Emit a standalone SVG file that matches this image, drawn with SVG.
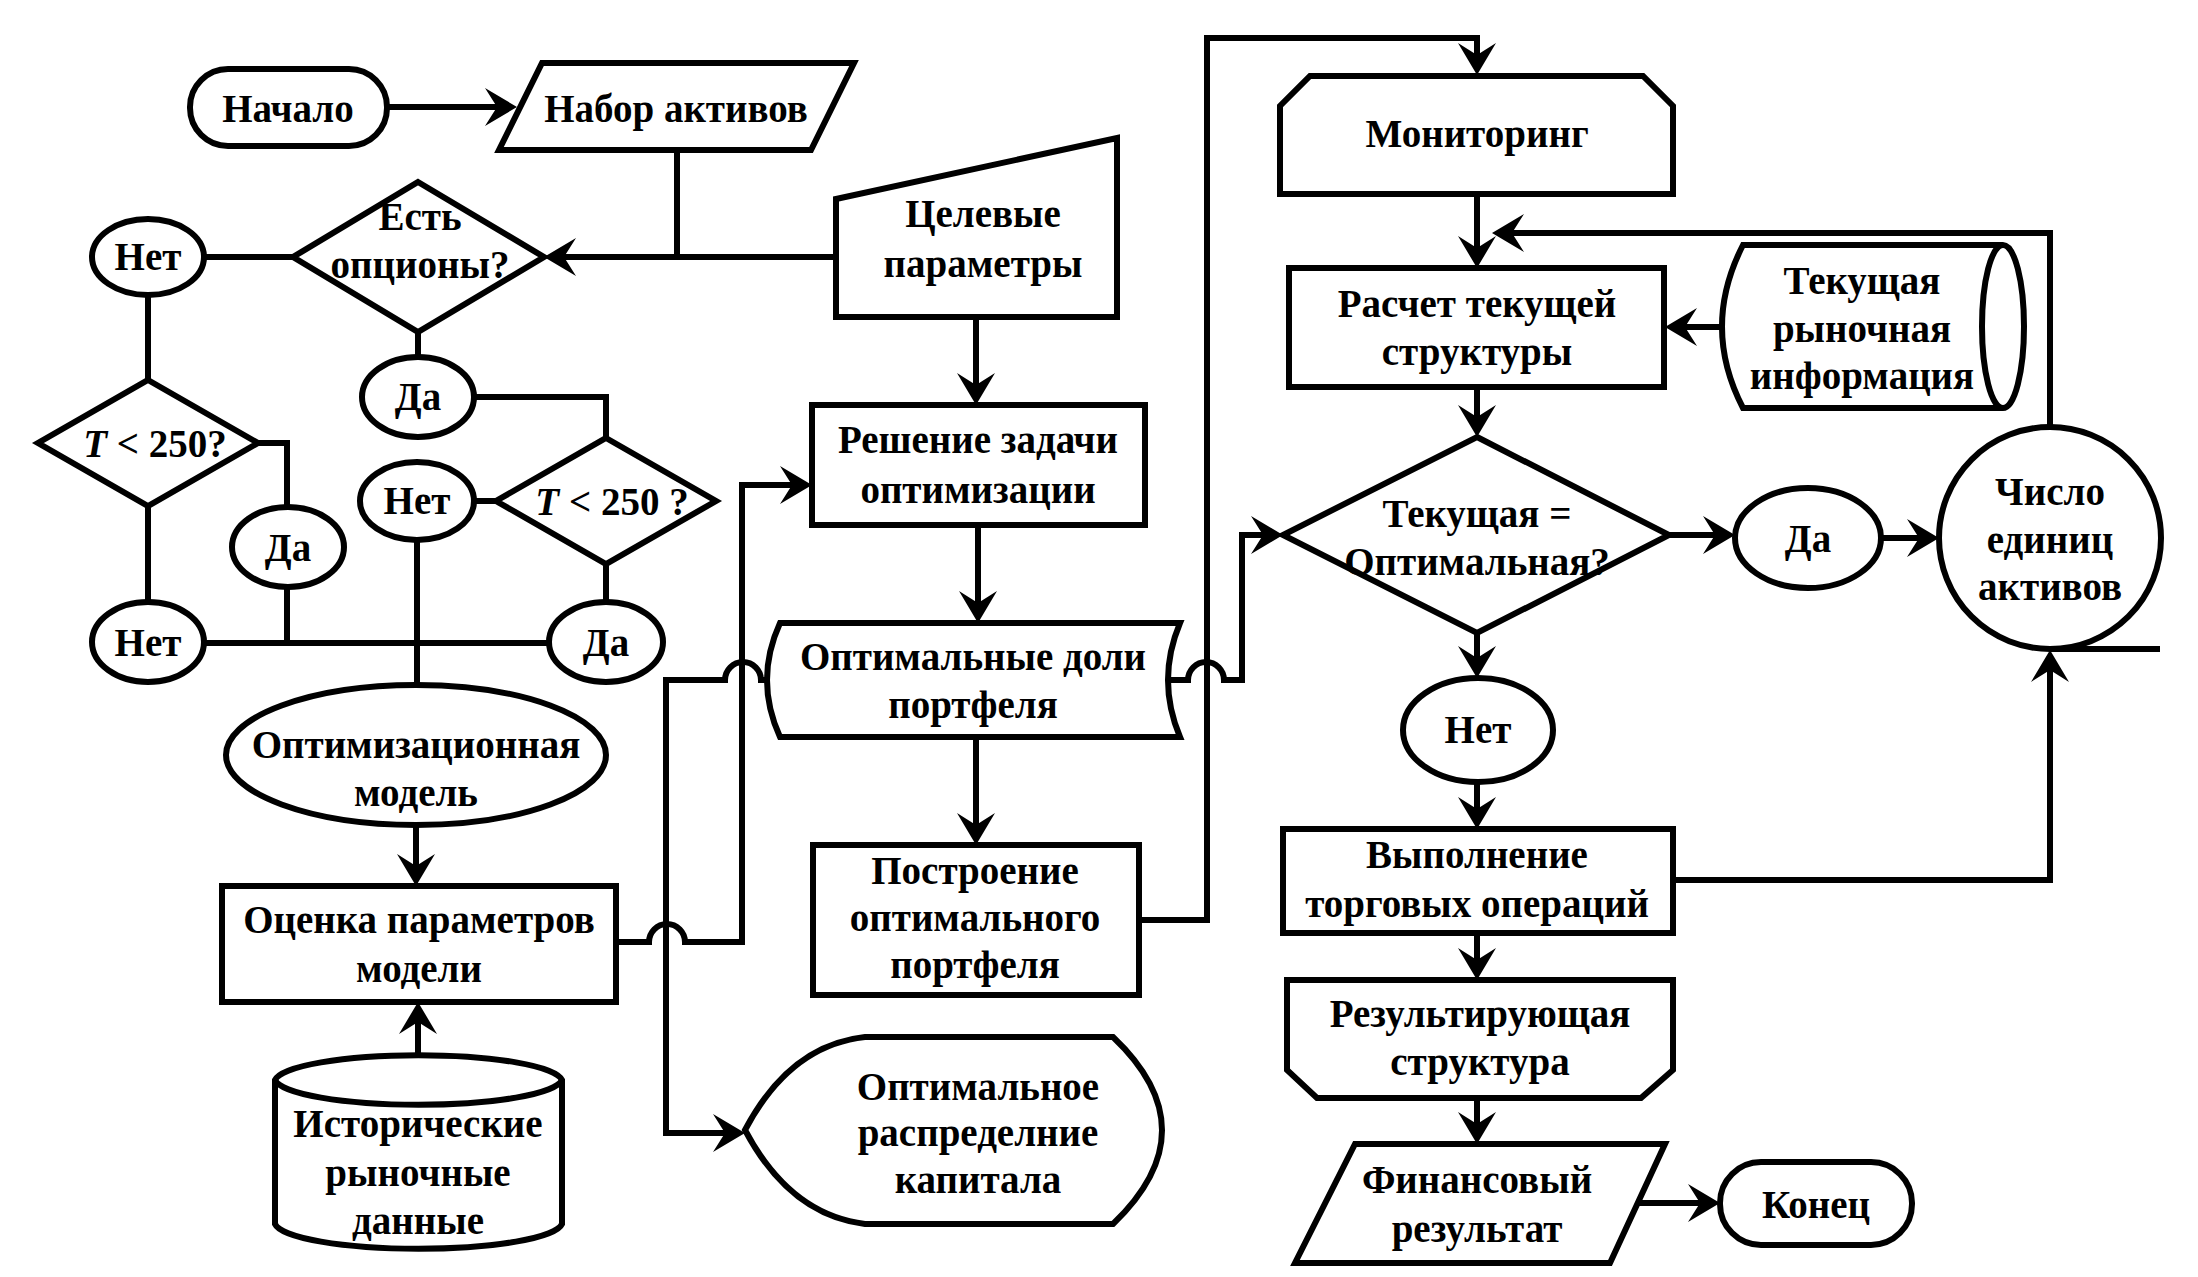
<svg xmlns="http://www.w3.org/2000/svg" width="2198" height="1277" viewBox="0 0 2198 1277">
<style>
.s{fill:#fff;stroke:#000;stroke-width:6;stroke-linejoin:miter}
.c{fill:none;stroke:#000;stroke-width:6;stroke-linejoin:miter}
.a{marker-end:url(#ah)}
text{font-family:"Liberation Serif","Times New Roman",serif;font-weight:bold;font-size:39px;text-anchor:middle;fill:#000}
.i{font-style:italic}
</style>
<defs>
<marker id="ah" markerUnits="userSpaceOnUse" viewBox="-2 -21 36 42" markerWidth="36" markerHeight="42" refX="12" refY="0" orient="auto">
<path d="M0,-19 L32,0 L0,19 L12,0 Z" fill="#000"/>
</marker>
</defs>
<rect width="2198" height="1277" fill="#fff"/>
<g id="connectors">
<path class="c a" d="M387,107 H497"/>
<path class="c" d="M677,150 V257"/>
<path class="c a" d="M836,257 H564"/>
<path class="c" d="M204,257 H293"/>
<path class="c" d="M148,295 V380"/>
<path class="c" d="M258,443 H287 V507"/>
<path class="c" d="M148,506 V602"/>
<path class="c" d="M287,587 V643"/>
<path class="c" d="M204,643 H550"/>
<path class="c" d="M418,332 V357"/>
<path class="c" d="M474,397 H606 V438"/>
<path class="c" d="M474,501 H496"/>
<path class="c" d="M606,564 V602"/>
<path class="c" d="M417,540 V685"/>
<path class="c a" d="M416,825 V866"/>
<path class="c a" d="M418,1053 V1022"/>
<path class="c a" d="M976,317 V385"/>
<path class="c a" d="M978,525 V603"/>
<path class="c a" d="M976,737 V825"/>
<path class="c a" d="M616,942 H649 A18,18 0 0 1 685,942 H742 V485 H792"/>
<path class="c a" d="M767,680 H761 A18,18 0 0 0 725,680 H666 V1133 H725"/>
<path class="c a" d="M1139,920 H1207 V38 H1477 V55"/>
<path class="c a" d="M1168,680 H1188 A18,18 0 0 1 1224,680 H1242 V535 H1263"/>
<path class="c a" d="M1477,194 V248"/>
<path class="c a" d="M2050,427 V233 H1512"/>
<path class="c a" d="M1722,327 H1685"/>
<path class="c a" d="M1477,387 V417"/>
<path class="c a" d="M1669,535 H1715"/>
<path class="c a" d="M1881,538 H1919"/>
<path class="c a" d="M1477,633 V658"/>
<path class="c a" d="M1477,782 V809"/>
<path class="c a" d="M1477,933 V960"/>
<path class="c a" d="M1477,1098 V1124"/>
<path class="c a" d="M1636,1203 H1700"/>
<path class="c a" d="M1673,880 H2050 V670"/>
</g>
<g id="start"><rect class="s" x="190" y="69" width="197" height="77" rx="38"/><text x="288" y="122">Начало</text></g>
<g id="assets"><polygon class="s" points="542,63 854,63 811,150 499,150"/><text x="676" y="122">Набор активов</text></g>
<g id="options"><polygon class="s" points="418,182 544,257 418,332 293,257"/><text x="420" y="230">Есть</text><text x="420" y="278">опционы?</text></g>
<g id="no1"><ellipse class="s" cx="148" cy="257" rx="56" ry="38"/><text x="148" y="270">Нет</text></g>
<g id="yes1"><ellipse class="s" cx="418" cy="397" rx="56" ry="40"/><text x="418" y="410">Да</text></g>
<g id="t1"><polygon class="s" points="148,380 258,443 148,506 38,443"/><text x="155" y="457"><tspan class="i">T</tspan> &lt; 250?</text></g>
<g id="yes2"><ellipse class="s" cx="288" cy="547" rx="56" ry="40"/><text x="288" y="561">Да</text></g>
<g id="no2"><ellipse class="s" cx="148" cy="642" rx="56" ry="40"/><text x="148" y="656">Нет</text></g>
<g id="no3"><ellipse class="s" cx="417" cy="501" rx="57" ry="39"/><text x="417" y="514">Нет</text></g>
<g id="t2"><polygon class="s" points="606,438 716,501 606,564 496,501"/><text x="612" y="515"><tspan class="i">T</tspan> &lt; 250 ?</text></g>
<g id="yes3"><ellipse class="s" cx="606" cy="642" rx="57" ry="40"/><text x="606" y="656">Да</text></g>
<g id="model"><ellipse class="s" cx="416" cy="755" rx="190" ry="70"/><text x="416" y="758">Оптимизационная</text><text x="416" y="806">модель</text></g>
<g id="estimate"><rect class="s" x="222" y="886" width="394" height="116"/><text x="419" y="933">Оценка параметров</text><text x="419" y="982">модели</text></g>
<g id="history"><path class="s" d="M275,1080 A144,27 0 0 1 562,1080 V1224 A144,27 0 0 1 275,1224 Z"/><path class="c" d="M275,1080 A144,27 0 0 0 562,1080"/><text x="418" y="1137">Исторические</text><text x="418" y="1186">рыночные</text><text x="418" y="1234">данные</text></g>
<g id="targets"><polygon class="s" points="836,199 1117,138 1117,317 836,317"/><text x="983" y="227">Целевые</text><text x="983" y="277">параметры</text></g>
<g id="solve"><rect class="s" x="812" y="405" width="333" height="120"/><text x="978" y="453">Решение задачи</text><text x="978" y="503">оптимизации</text></g>
<g id="weights"><path class="s" d="M780,623 H1180 Q1156,680 1180,737 H780 Q754,680 780,623 Z"/><text x="973" y="670">Оптимальные доли</text><text x="973" y="718">портфеля</text></g>
<g id="build"><rect class="s" x="813" y="845" width="326" height="150"/><text x="975" y="884">Построение</text><text x="975" y="931">оптимального</text><text x="975" y="978">портфеля</text></g>
<g id="allocation"><path class="s" d="M865,1037 H1113 Q1211,1130 1113,1224 H865 Q790,1215 745,1130 Q790,1045 865,1037 Z"/><text x="978" y="1100">Оптимальное</text><text x="978" y="1146">распределние</text><text x="978" y="1193">капитала</text></g>
<g id="monitoring"><polygon class="s" points="1310,76 1643,76 1673,106 1673,194 1280,194 1280,106"/><text x="1477" y="147">Мониторинг</text></g>
<g id="current"><rect class="s" x="1289" y="268" width="375" height="119"/><text x="1477" y="317">Расчет текущей</text><text x="1477" y="365">структуры</text></g>
<g id="market"><path class="s" d="M1743,245 H2003 A21,81.5 0 0 1 2003,408 H1743 Q1701,327 1743,245 Z"/><path class="c" d="M2003,245 A21,81.5 0 0 0 2003,408"/><text x="1862" y="294">Текущая</text><text x="1862" y="342">рыночная</text><text x="1862" y="389">информация</text></g>
<g id="compare"><polygon class="s" points="1477,437 1669,535 1477,633 1283,535"/><text x="1477" y="527">Текущая =</text><text x="1477" y="575">Оптимальная?</text></g>
<g id="yes4"><ellipse class="s" cx="1808" cy="538" rx="73" ry="50"/><text x="1808" y="552">Да</text></g>
<g id="units"><circle class="s" cx="2050" cy="538" r="111"/><path class="c" d="M2050,649 H2160"/><text x="2050" y="505">Число</text><text x="2050" y="553">единиц</text><text x="2050" y="600">активов</text></g>
<g id="no4"><ellipse class="s" cx="1478" cy="730" rx="75" ry="52"/><text x="1478" y="743">Нет</text></g>
<g id="trade"><rect class="s" x="1283" y="829" width="390" height="104"/><text x="1477" y="868">Выполнение</text><text x="1477" y="917">торговых операций</text></g>
<g id="result"><polygon class="s" points="1287,980 1673,980 1673,1070 1641,1098 1317,1098 1287,1070"/><text x="1480" y="1027">Результирующая</text><text x="1480" y="1075">структура</text></g>
<g id="financial"><polygon class="s" points="1355,1144 1665,1144 1610,1263 1295,1263"/><text x="1477" y="1193">Финансовый</text><text x="1477" y="1242">результат</text></g>
<g id="end"><rect class="s" x="1720" y="1162" width="192" height="83" rx="41"/><text x="1816" y="1218">Конец</text></g>
</svg>
